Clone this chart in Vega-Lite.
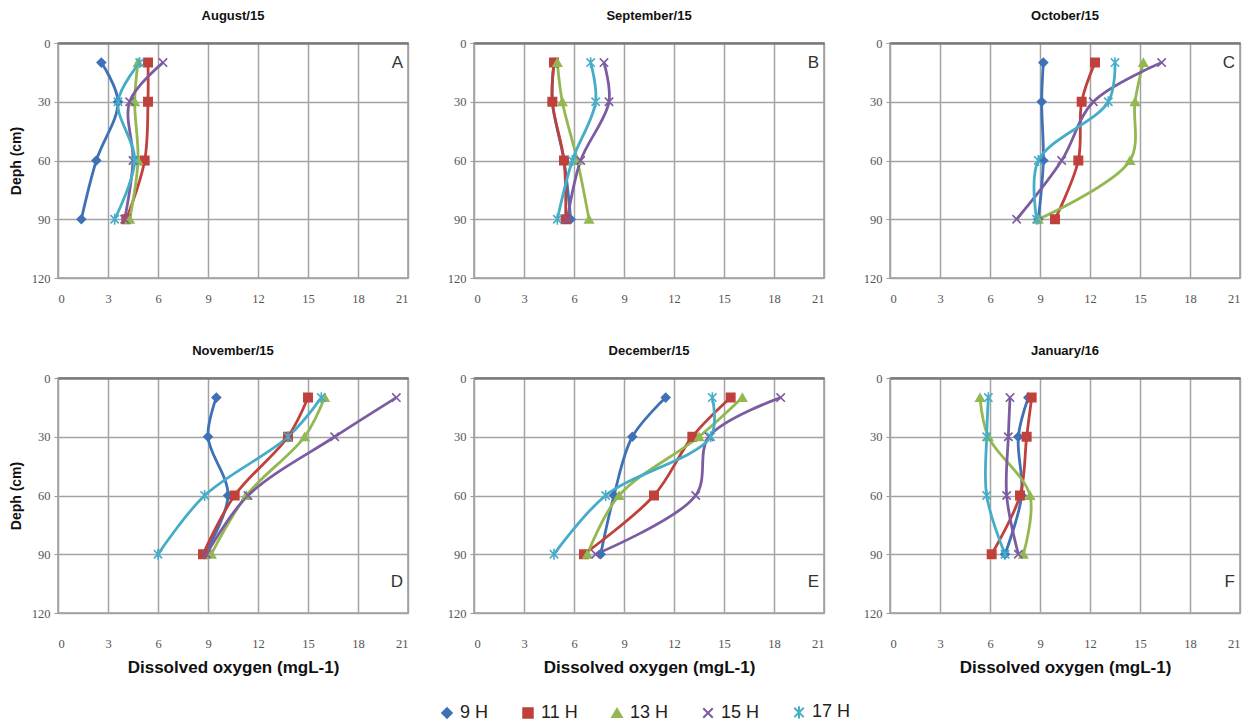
{
  "$schema": "https://vega.github.io/schema/vega-lite/v6.json",
  "padding": {"left": 8, "top": 9, "right": 4, "bottom": 4},
  "background": "white",
  "datasets": {
    "do": [
      {"month": "August/15", "hour": "9 H", "depth": 10, "do": 2.6},
      {"month": "August/15", "hour": "9 H", "depth": 30, "do": 3.6},
      {"month": "August/15", "hour": "9 H", "depth": 60, "do": 2.3},
      {"month": "August/15", "hour": "9 H", "depth": 90, "do": 1.4},
      {"month": "August/15", "hour": "11 H", "depth": 10, "do": 5.4},
      {"month": "August/15", "hour": "11 H", "depth": 30, "do": 5.4},
      {"month": "August/15", "hour": "11 H", "depth": 60, "do": 5.2},
      {"month": "August/15", "hour": "11 H", "depth": 90, "do": 4.1},
      {"month": "August/15", "hour": "13 H", "depth": 10, "do": 4.8},
      {"month": "August/15", "hour": "13 H", "depth": 30, "do": 4.6},
      {"month": "August/15", "hour": "13 H", "depth": 60, "do": 4.8},
      {"month": "August/15", "hour": "13 H", "depth": 90, "do": 4.3},
      {"month": "August/15", "hour": "15 H", "depth": 10, "do": 6.3},
      {"month": "August/15", "hour": "15 H", "depth": 30, "do": 4.3},
      {"month": "August/15", "hour": "15 H", "depth": 60, "do": 4.5},
      {"month": "August/15", "hour": "15 H", "depth": 90, "do": 4.0},
      {"month": "August/15", "hour": "17 H", "depth": 10, "do": 4.9},
      {"month": "August/15", "hour": "17 H", "depth": 30, "do": 3.6},
      {"month": "August/15", "hour": "17 H", "depth": 60, "do": 4.6},
      {"month": "August/15", "hour": "17 H", "depth": 90, "do": 3.4},

      {"month": "September/15", "hour": "9 H", "depth": 10, "do": 4.8},
      {"month": "September/15", "hour": "9 H", "depth": 30, "do": 4.7},
      {"month": "September/15", "hour": "9 H", "depth": 60, "do": 5.4},
      {"month": "September/15", "hour": "9 H", "depth": 90, "do": 5.8},
      {"month": "September/15", "hour": "11 H", "depth": 10, "do": 4.8},
      {"month": "September/15", "hour": "11 H", "depth": 30, "do": 4.7},
      {"month": "September/15", "hour": "11 H", "depth": 60, "do": 5.4},
      {"month": "September/15", "hour": "11 H", "depth": 90, "do": 5.5},
      {"month": "September/15", "hour": "13 H", "depth": 10, "do": 5.0},
      {"month": "September/15", "hour": "13 H", "depth": 30, "do": 5.3},
      {"month": "September/15", "hour": "13 H", "depth": 60, "do": 6.2},
      {"month": "September/15", "hour": "13 H", "depth": 90, "do": 6.9},
      {"month": "September/15", "hour": "15 H", "depth": 10, "do": 7.8},
      {"month": "September/15", "hour": "15 H", "depth": 30, "do": 8.1},
      {"month": "September/15", "hour": "15 H", "depth": 60, "do": 6.4},
      {"month": "September/15", "hour": "15 H", "depth": 90, "do": 5.6},
      {"month": "September/15", "hour": "17 H", "depth": 10, "do": 7.0},
      {"month": "September/15", "hour": "17 H", "depth": 30, "do": 7.3},
      {"month": "September/15", "hour": "17 H", "depth": 60, "do": 5.9},
      {"month": "September/15", "hour": "17 H", "depth": 90, "do": 5.0},

      {"month": "October/15", "hour": "9 H", "depth": 10, "do": 9.2},
      {"month": "October/15", "hour": "9 H", "depth": 30, "do": 9.1},
      {"month": "October/15", "hour": "9 H", "depth": 60, "do": 9.2},
      {"month": "October/15", "hour": "9 H", "depth": 90, "do": 8.9},
      {"month": "October/15", "hour": "11 H", "depth": 10, "do": 12.3},
      {"month": "October/15", "hour": "11 H", "depth": 30, "do": 11.5},
      {"month": "October/15", "hour": "11 H", "depth": 60, "do": 11.3},
      {"month": "October/15", "hour": "11 H", "depth": 90, "do": 9.9},
      {"month": "October/15", "hour": "13 H", "depth": 10, "do": 15.2},
      {"month": "October/15", "hour": "13 H", "depth": 30, "do": 14.7},
      {"month": "October/15", "hour": "13 H", "depth": 60, "do": 14.4},
      {"month": "October/15", "hour": "13 H", "depth": 90, "do": 8.9},
      {"month": "October/15", "hour": "15 H", "depth": 10, "do": 16.3},
      {"month": "October/15", "hour": "15 H", "depth": 30, "do": 12.2},
      {"month": "October/15", "hour": "15 H", "depth": 60, "do": 10.3},
      {"month": "October/15", "hour": "15 H", "depth": 90, "do": 7.6},
      {"month": "October/15", "hour": "17 H", "depth": 10, "do": 13.5},
      {"month": "October/15", "hour": "17 H", "depth": 30, "do": 13.1},
      {"month": "October/15", "hour": "17 H", "depth": 60, "do": 8.9},
      {"month": "October/15", "hour": "17 H", "depth": 90, "do": 8.8},

      {"month": "November/15", "hour": "9 H", "depth": 10, "do": 9.5},
      {"month": "November/15", "hour": "9 H", "depth": 30, "do": 9.0},
      {"month": "November/15", "hour": "9 H", "depth": 60, "do": 10.2},
      {"month": "November/15", "hour": "9 H", "depth": 90, "do": 8.8},
      {"month": "November/15", "hour": "11 H", "depth": 10, "do": 15.0},
      {"month": "November/15", "hour": "11 H", "depth": 30, "do": 13.8},
      {"month": "November/15", "hour": "11 H", "depth": 60, "do": 10.6},
      {"month": "November/15", "hour": "11 H", "depth": 90, "do": 8.7},
      {"month": "November/15", "hour": "13 H", "depth": 10, "do": 16.0},
      {"month": "November/15", "hour": "13 H", "depth": 30, "do": 14.8},
      {"month": "November/15", "hour": "13 H", "depth": 60, "do": 11.3},
      {"month": "November/15", "hour": "13 H", "depth": 90, "do": 9.2},
      {"month": "November/15", "hour": "15 H", "depth": 10, "do": 20.3},
      {"month": "November/15", "hour": "15 H", "depth": 30, "do": 16.6},
      {"month": "November/15", "hour": "15 H", "depth": 60, "do": 11.4},
      {"month": "November/15", "hour": "15 H", "depth": 90, "do": 8.9},
      {"month": "November/15", "hour": "17 H", "depth": 10, "do": 15.8},
      {"month": "November/15", "hour": "17 H", "depth": 30, "do": 13.8},
      {"month": "November/15", "hour": "17 H", "depth": 60, "do": 8.8},
      {"month": "November/15", "hour": "17 H", "depth": 90, "do": 6.0},

      {"month": "December/15", "hour": "9 H", "depth": 10, "do": 11.5},
      {"month": "December/15", "hour": "9 H", "depth": 30, "do": 9.5},
      {"month": "December/15", "hour": "9 H", "depth": 60, "do": 8.4},
      {"month": "December/15", "hour": "9 H", "depth": 90, "do": 7.6},
      {"month": "December/15", "hour": "11 H", "depth": 10, "do": 15.4},
      {"month": "December/15", "hour": "11 H", "depth": 30, "do": 13.1},
      {"month": "December/15", "hour": "11 H", "depth": 60, "do": 10.8},
      {"month": "December/15", "hour": "11 H", "depth": 90, "do": 6.6},
      {"month": "December/15", "hour": "13 H", "depth": 10, "do": 16.1},
      {"month": "December/15", "hour": "13 H", "depth": 30, "do": 13.5},
      {"month": "December/15", "hour": "13 H", "depth": 60, "do": 8.7},
      {"month": "December/15", "hour": "13 H", "depth": 90, "do": 6.8},
      {"month": "December/15", "hour": "15 H", "depth": 10, "do": 18.4},
      {"month": "December/15", "hour": "15 H", "depth": 30, "do": 14.1},
      {"month": "December/15", "hour": "15 H", "depth": 60, "do": 13.3},
      {"month": "December/15", "hour": "15 H", "depth": 90, "do": 7.3},
      {"month": "December/15", "hour": "17 H", "depth": 10, "do": 14.3},
      {"month": "December/15", "hour": "17 H", "depth": 30, "do": 14.2},
      {"month": "December/15", "hour": "17 H", "depth": 60, "do": 7.9},
      {"month": "December/15", "hour": "17 H", "depth": 90, "do": 4.8},

      {"month": "January/16", "hour": "9 H", "depth": 10, "do": 8.3},
      {"month": "January/16", "hour": "9 H", "depth": 30, "do": 7.7},
      {"month": "January/16", "hour": "9 H", "depth": 60, "do": 7.9},
      {"month": "January/16", "hour": "9 H", "depth": 90, "do": 6.9},
      {"month": "January/16", "hour": "11 H", "depth": 10, "do": 8.5},
      {"month": "January/16", "hour": "11 H", "depth": 30, "do": 8.2},
      {"month": "January/16", "hour": "11 H", "depth": 60, "do": 7.8},
      {"month": "January/16", "hour": "11 H", "depth": 90, "do": 6.1},
      {"month": "January/16", "hour": "13 H", "depth": 10, "do": 5.4},
      {"month": "January/16", "hour": "13 H", "depth": 30, "do": 5.9},
      {"month": "January/16", "hour": "13 H", "depth": 60, "do": 8.4},
      {"month": "January/16", "hour": "13 H", "depth": 90, "do": 8.0},
      {"month": "January/16", "hour": "15 H", "depth": 10, "do": 7.2},
      {"month": "January/16", "hour": "15 H", "depth": 30, "do": 7.1},
      {"month": "January/16", "hour": "15 H", "depth": 60, "do": 7.0},
      {"month": "January/16", "hour": "15 H", "depth": 90, "do": 7.7},
      {"month": "January/16", "hour": "17 H", "depth": 10, "do": 5.9},
      {"month": "January/16", "hour": "17 H", "depth": 30, "do": 5.8},
      {"month": "January/16", "hour": "17 H", "depth": 60, "do": 5.8},
      {"month": "January/16", "hour": "17 H", "depth": 90, "do": 6.9}
    ]
  },
  "vconcat": [
    {
      "hconcat": [
        {
          "width": 350, "height": 235,
          "title": "August/15",
          "data": {"name": "do"},
          "transform": [{"filter": "datum.month === 'August/15'"}],
          "layer": [
            {"mark": {"type": "line", "interpolate": "catmull-rom", "strokeWidth": 2.8},
             "encoding": {
               "x": {"field": "do", "type": "quantitative", "scale": {"domain": [0, 21], "nice": false}, "axis": {"title": null, "values": [0, 3, 6, 9, 12, 15, 18, 21]}},
               "y": {"field": "depth", "type": "quantitative", "scale": {"domain": [0, 120], "nice": false, "reverse": true}, "axis": {"title": "Deph (cm)", "values": [0, 30, 60, 90, 120]}},
               "stroke": {"field": "hour", "type": "nominal", "scale": {"domain": ["9 H", "11 H", "13 H", "15 H", "17 H"], "range": ["#3F71B7", "#C0413B", "#93B851", "#7B5CA0", "#45ADC8"]}},
               "order": {"field": "depth", "type": "quantitative"}
             }},
            {"mark": {"type": "point", "opacity": 1, "size": 70, "strokeWidth": 1.6},
             "encoding": {
               "x": {"field": "do", "type": "quantitative"},
               "y": {"field": "depth", "type": "quantitative"},
               "stroke": {"field": "hour", "type": "nominal"},
               "fill": {"field": "hour", "type": "nominal", "scale": {"domain": ["9 H", "11 H", "13 H", "15 H", "17 H"], "range": ["#3F71B7", "#C0413B", "#93B851", "#7B5CA0", "#45ADC8"]}},
               "shape": {"field": "hour", "type": "nominal", "scale": {"domain": ["9 H", "11 H", "13 H", "15 H", "17 H"], "range": ["diamond", "square", "triangle-up", "M-1,-1L1,1M1,-1L-1,1", "M-1,-1L1,1M1,-1L-1,1M0,-1.3L0,1.3"]}}
             }},
            {"data": {"values": [{"letter": "A"}]},
             "mark": {"type": "text", "fontSize": 17, "color": "#333", "align": "right", "baseline": "middle"},
             "encoding": {"x": {"datum": 20.7}, "y": {"datum": 10}, "text": {"field": "letter"}}}
          ]
        },
        {
          "width": 350, "height": 235,
          "title": "September/15",
          "data": {"name": "do"},
          "transform": [{"filter": "datum.month === 'September/15'"}],
          "layer": [
            {"mark": {"type": "line", "interpolate": "catmull-rom", "strokeWidth": 2.8},
             "encoding": {
               "x": {"field": "do", "type": "quantitative", "scale": {"domain": [0, 21], "nice": false}, "axis": {"title": null, "values": [0, 3, 6, 9, 12, 15, 18, 21]}},
               "y": {"field": "depth", "type": "quantitative", "scale": {"domain": [0, 120], "nice": false, "reverse": true}, "axis": {"title": null, "values": [0, 30, 60, 90, 120]}},
               "stroke": {"field": "hour", "type": "nominal"},
               "order": {"field": "depth", "type": "quantitative"}
             }},
            {"mark": {"type": "point", "opacity": 1, "size": 70, "strokeWidth": 1.6},
             "encoding": {
               "x": {"field": "do", "type": "quantitative"},
               "y": {"field": "depth", "type": "quantitative"},
               "stroke": {"field": "hour", "type": "nominal"},
               "fill": {"field": "hour", "type": "nominal"},
               "shape": {"field": "hour", "type": "nominal"}
             }},
            {"data": {"values": [{"letter": "B"}]},
             "mark": {"type": "text", "fontSize": 17, "color": "#333", "align": "right", "baseline": "middle"},
             "encoding": {"x": {"datum": 20.7}, "y": {"datum": 10}, "text": {"field": "letter"}}}
          ]
        },
        {
          "width": 350, "height": 235,
          "title": "October/15",
          "data": {"name": "do"},
          "transform": [{"filter": "datum.month === 'October/15'"}],
          "layer": [
            {"mark": {"type": "line", "interpolate": "catmull-rom", "strokeWidth": 2.8},
             "encoding": {
               "x": {"field": "do", "type": "quantitative", "scale": {"domain": [0, 21], "nice": false}, "axis": {"title": null, "values": [0, 3, 6, 9, 12, 15, 18, 21]}},
               "y": {"field": "depth", "type": "quantitative", "scale": {"domain": [0, 120], "nice": false, "reverse": true}, "axis": {"title": null, "values": [0, 30, 60, 90, 120]}},
               "stroke": {"field": "hour", "type": "nominal"},
               "order": {"field": "depth", "type": "quantitative"}
             }},
            {"mark": {"type": "point", "opacity": 1, "size": 70, "strokeWidth": 1.6},
             "encoding": {
               "x": {"field": "do", "type": "quantitative"},
               "y": {"field": "depth", "type": "quantitative"},
               "stroke": {"field": "hour", "type": "nominal"},
               "fill": {"field": "hour", "type": "nominal"},
               "shape": {"field": "hour", "type": "nominal"}
             }},
            {"data": {"values": [{"letter": "C"}]},
             "mark": {"type": "text", "fontSize": 17, "color": "#333", "align": "right", "baseline": "middle"},
             "encoding": {"x": {"datum": 20.7}, "y": {"datum": 10}, "text": {"field": "letter"}}}
          ]
        }
      ]
    },
    {
      "hconcat": [
        {
          "width": 350, "height": 235,
          "title": "November/15",
          "data": {"name": "do"},
          "transform": [{"filter": "datum.month === 'November/15'"}],
          "layer": [
            {"mark": {"type": "line", "interpolate": "catmull-rom", "strokeWidth": 2.8},
             "encoding": {
               "x": {"field": "do", "type": "quantitative", "scale": {"domain": [0, 21], "nice": false}, "axis": {"title": "Dissolved oxygen (mgL-1)", "labelPadding": 24, "values": [0, 3, 6, 9, 12, 15, 18, 21]}},
               "y": {"field": "depth", "type": "quantitative", "scale": {"domain": [0, 120], "nice": false, "reverse": true}, "axis": {"title": "Deph (cm)", "values": [0, 30, 60, 90, 120]}},
               "stroke": {"field": "hour", "type": "nominal"},
               "order": {"field": "depth", "type": "quantitative"}
             }},
            {"mark": {"type": "point", "opacity": 1, "size": 70, "strokeWidth": 1.6},
             "encoding": {
               "x": {"field": "do", "type": "quantitative"},
               "y": {"field": "depth", "type": "quantitative"},
               "stroke": {"field": "hour", "type": "nominal"},
               "fill": {"field": "hour", "type": "nominal"},
               "shape": {"field": "hour", "type": "nominal"}
             }},
            {"data": {"values": [{"letter": "D"}]},
             "mark": {"type": "text", "fontSize": 17, "color": "#333", "align": "right", "baseline": "middle"},
             "encoding": {"x": {"datum": 20.7}, "y": {"datum": 104}, "text": {"field": "letter"}}}
          ]
        },
        {
          "width": 350, "height": 235,
          "title": "December/15",
          "data": {"name": "do"},
          "transform": [{"filter": "datum.month === 'December/15'"}],
          "layer": [
            {"mark": {"type": "line", "interpolate": "catmull-rom", "strokeWidth": 2.8},
             "encoding": {
               "x": {"field": "do", "type": "quantitative", "scale": {"domain": [0, 21], "nice": false}, "axis": {"title": "Dissolved oxygen (mgL-1)", "labelPadding": 24, "values": [0, 3, 6, 9, 12, 15, 18, 21]}},
               "y": {"field": "depth", "type": "quantitative", "scale": {"domain": [0, 120], "nice": false, "reverse": true}, "axis": {"title": null, "values": [0, 30, 60, 90, 120]}},
               "stroke": {"field": "hour", "type": "nominal"},
               "order": {"field": "depth", "type": "quantitative"}
             }},
            {"mark": {"type": "point", "opacity": 1, "size": 70, "strokeWidth": 1.6},
             "encoding": {
               "x": {"field": "do", "type": "quantitative"},
               "y": {"field": "depth", "type": "quantitative"},
               "stroke": {"field": "hour", "type": "nominal"},
               "fill": {"field": "hour", "type": "nominal"},
               "shape": {"field": "hour", "type": "nominal"}
             }},
            {"data": {"values": [{"letter": "E"}]},
             "mark": {"type": "text", "fontSize": 17, "color": "#333", "align": "right", "baseline": "middle"},
             "encoding": {"x": {"datum": 20.7}, "y": {"datum": 104}, "text": {"field": "letter"}}}
          ]
        },
        {
          "width": 350, "height": 235,
          "title": "January/16",
          "data": {"name": "do"},
          "transform": [{"filter": "datum.month === 'January/16'"}],
          "layer": [
            {"mark": {"type": "line", "interpolate": "catmull-rom", "strokeWidth": 2.8},
             "encoding": {
               "x": {"field": "do", "type": "quantitative", "scale": {"domain": [0, 21], "nice": false}, "axis": {"title": "Dissolved oxygen (mgL-1)", "labelPadding": 24, "values": [0, 3, 6, 9, 12, 15, 18, 21]}},
               "y": {"field": "depth", "type": "quantitative", "scale": {"domain": [0, 120], "nice": false, "reverse": true}, "axis": {"title": null, "values": [0, 30, 60, 90, 120]}},
               "stroke": {"field": "hour", "type": "nominal"},
               "order": {"field": "depth", "type": "quantitative"}
             }},
            {"mark": {"type": "point", "opacity": 1, "size": 70, "strokeWidth": 1.6},
             "encoding": {
               "x": {"field": "do", "type": "quantitative"},
               "y": {"field": "depth", "type": "quantitative"},
               "stroke": {"field": "hour", "type": "nominal"},
               "fill": {"field": "hour", "type": "nominal"},
               "shape": {"field": "hour", "type": "nominal"}
             }},
            {"data": {"values": [{"letter": "F"}]},
             "mark": {"type": "text", "fontSize": 17, "color": "#333", "align": "right", "baseline": "middle"},
             "encoding": {"x": {"datum": 20.7}, "y": {"datum": 104}, "text": {"field": "letter"}}}
          ]
        }
      ]
    }
  ],
  "spacing": 38,
  "resolve": {"scale": {"stroke": "shared", "fill": "shared", "shape": "shared"}, "legend": {"stroke": "shared", "fill": "shared", "shape": "shared"}},
  "config": {
    "font": "Liberation Sans",
    "concat": {"spacing": 37},
    "view": {"stroke": "#9a9a9a", "strokeWidth": 1.5},
    "title": {"fontSize": 13, "fontWeight": "bold", "color": "#111", "offset": 14, "anchor": "middle"},
    "axis": {
      "domain": false,
      "grid": true,
      "gridColor": "#a3a3a3",
      "gridWidth": 1.5,
      "labelColor": "#555",
      "labelFontSize": 12.5,
      "labelFont": "Liberation Sans Narrow",
      "tickColor": "#999",
      "titleColor": "#111",
      "titleFontWeight": "bold"
    },
    "axisX": {"ticks": false, "labelPadding": 14, "titleFontSize": 17, "titlePadding": 10},
    "axisY": {"tickSize": 4, "labelPadding": 4, "titleFontSize": 14, "titlePadding": 8,
      "gridColor": {"condition": {"test": "datum.value === 0", "value": "#7a7a7a"}, "value": "#a3a3a3"},
      "gridWidth": {"condition": {"test": "datum.value === 0", "value": 2.5}, "value": 1.5}},
    "legend": {"orient": "none", "legendX": 380, "legendY": 660, "direction": "horizontal", "title": null, "labelFontSize": 18, "labelColor": "#222", "symbolSize": 90, "symbolStrokeWidth": 2, "columnPadding": 30}
  }
}
